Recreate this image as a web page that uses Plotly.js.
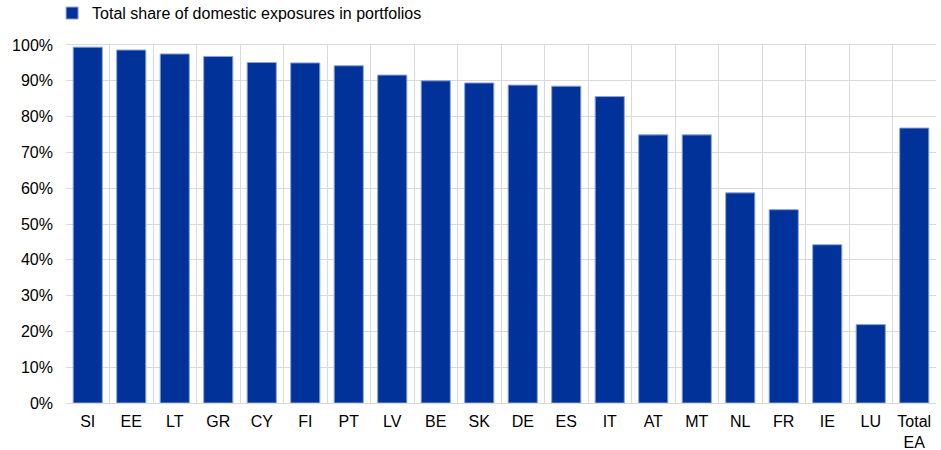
<!DOCTYPE html>
<html>
<head>
<meta charset="utf-8">
<script src="https://cdn.plot.ly/plotly-3.0.1.min.js"></script>
<style>
  html, body { margin: 0; padding: 0; background: #fff; }
  #chart { width: 941px; height: 450px; }
</style>
</head>
<body>
<div id="chart"></div>
<script>
  const countries = ['SI', 'EE', 'LT', 'GR', 'CY', 'FI', 'PT', 'LV', 'BE', 'SK',
    'DE', 'ES', 'IT', 'AT', 'MT', 'NL', 'FR', 'IE', 'LU', 'Total<br>EA'];
  const domesticShare = [99.4, 98.6, 97.5, 96.8, 95.1, 95.0, 94.2, 91.6, 90.0, 89.4,
    88.8, 88.5, 85.6, 74.9, 74.9, 58.7, 54.0, 44.2, 21.9, 76.8];
  const yTicks = [0, 10, 20, 30, 40, 50, 60, 70, 80, 90, 100];

  const trace = {
    type: 'bar',
    x: countries,
    y: domesticShare,
    name: 'Total share of domestic exposures in portfolios',
    marker: {
      color: '#003299',
      line: { color: '#8da3d6', width: 1 }
    },
    hoverinfo: 'x+y'
  };

  const layout = {
    width: 941,
    height: 450,
    paper_bgcolor: '#ffffff',
    plot_bgcolor: '#ffffff',
    font: { family: 'Arial, "Liberation Sans", sans-serif', size: 16, color: '#000000' },
    margin: { t: 45, r: 5, b: 47, l: 66, autoexpand: false },
    bargap: 0.33,
    showlegend: true,
    legend: {
      x: -0.016,
      xanchor: 'left',
      y: 1.089,
      yanchor: 'middle',
      orientation: 'h',
      font: { size: 16 }
    },
    xaxis: {
      type: 'category',
      tickson: 'boundaries',
      showgrid: true,
      gridcolor: '#d9d9d9',
      gridwidth: 1,
      showline: true,
      linecolor: '#d9d9d9',
      mirror: true,
      ticks: '',
      ticklen: 0,
      ticklabelstandoff: 4
    },
    yaxis: {
      range: [0, 100],
      tickvals: yTicks,
      ticktext: yTicks.map((v) => v + '%'),
      showgrid: true,
      gridcolor: '#d9d9d9',
      gridwidth: 1,
      zeroline: false,
      showline: false,
      ticks: '',
      ticklen: 0,
      ticklabelstandoff: 12,
      fixedrange: true
    }
  };

  Plotly.newPlot('chart', [trace], layout, { displayModeBar: false, staticPlot: true });
</script>
</body>
</html>
